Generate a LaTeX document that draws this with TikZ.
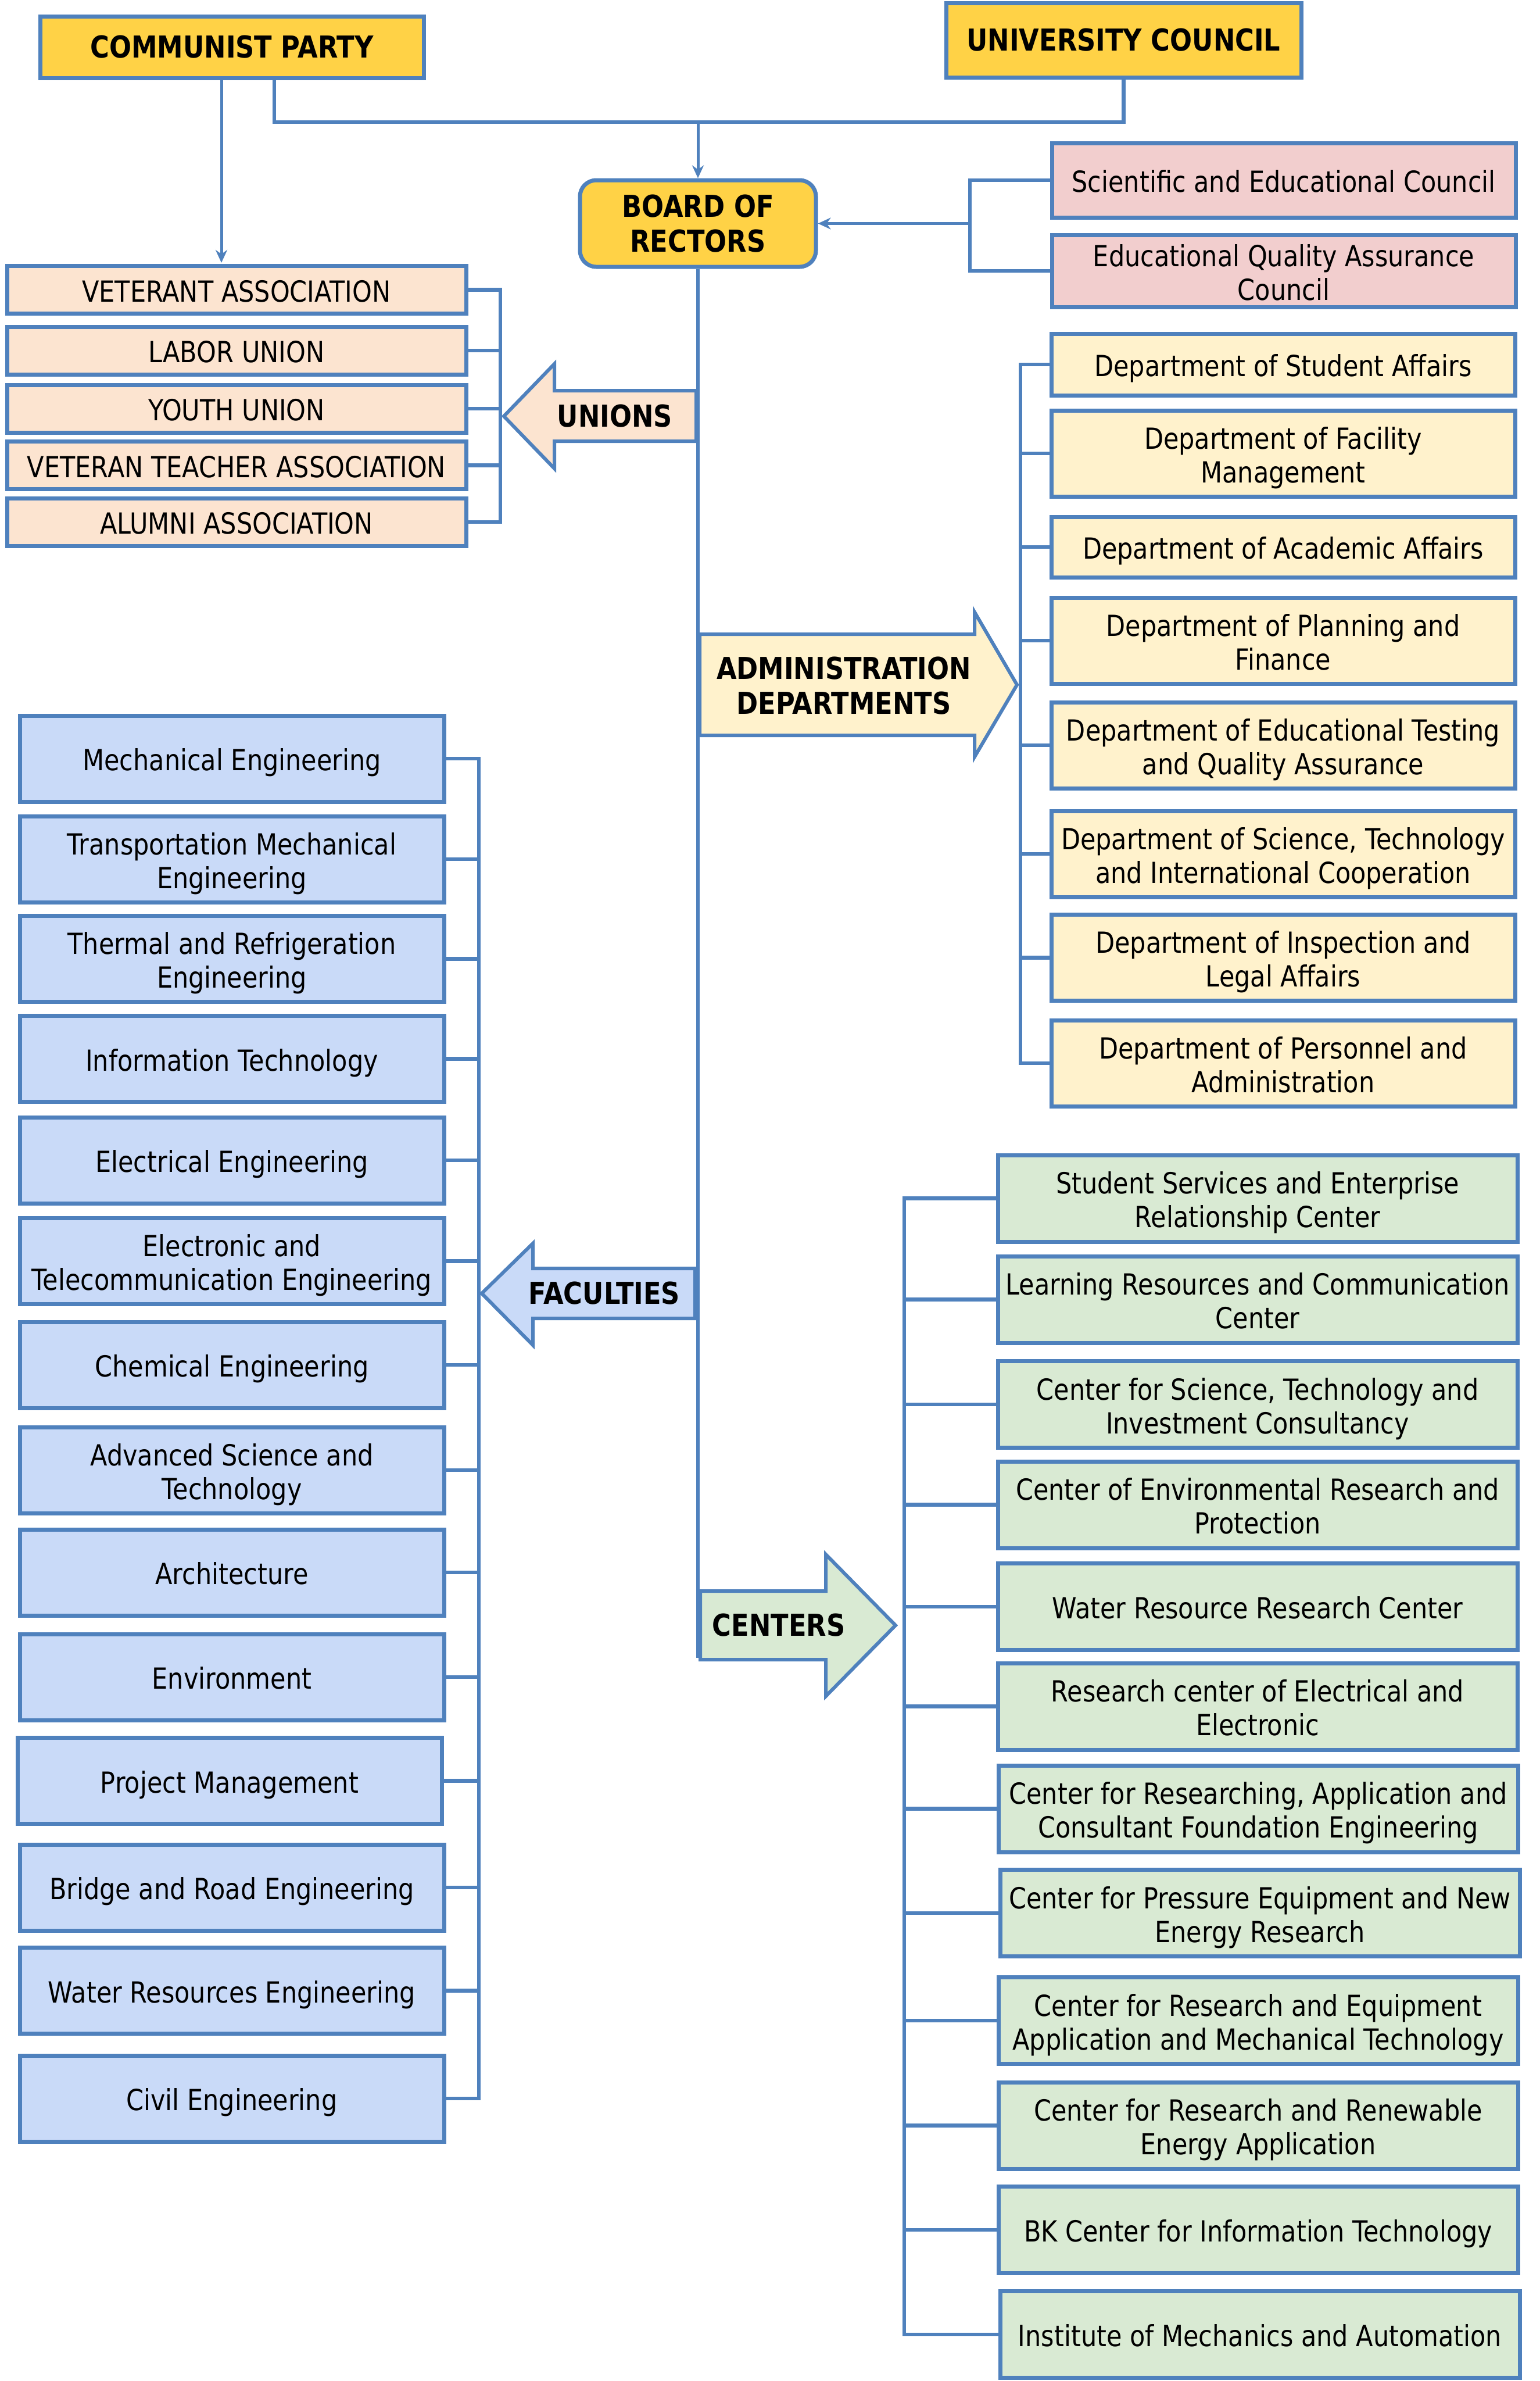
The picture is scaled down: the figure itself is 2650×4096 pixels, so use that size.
\documentclass[tikz,border=0pt]{standalone}
\usepackage{fontspec}
\setmainfont{DejaVu Sans}[FakeStretch=0.86]
\usetikzlibrary{arrows.meta}
\definecolor{bord}{RGB}{79,129,189}
\definecolor{goldc}{RGB}{255,210,70}
\definecolor{peach}{RGB}{252,228,208}
\definecolor{pinkc}{RGB}{242,206,206}
\definecolor{lyel}{RGB}{255,242,204}
\definecolor{lblue}{RGB}{201,218,248}
\definecolor{lgreen}{RGB}{217,234,211}
\newcommand\fsr{\fontsize{50}{58}\selectfont}
\newcommand\fsb{\fontsize{52}{60}\selectfont\bfseries}
\begin{document}
\begin{tikzpicture}[x=1pt,y=-1pt,
  box/.style={draw=bord, line width=7pt, align=center, inner sep=0pt, font=\fsr},
  onel/.style={text height=53pt, text depth=12pt},
  twol/.style={text height=112pt, text depth=12pt},
  headbox/.style={box, fill=goldc, font=\fsb},
  counbox/.style={box, onel, fill=pinkc, minimum width=798pt},
  unibox/.style={box, onel, fill=peach, minimum width=790pt, minimum height=82pt},
  admbox/.style={box, onel, fill=lyel, minimum width=798pt, minimum height=148pt},
  facbox/.style={box, onel, fill=lblue, minimum width=730pt, minimum height=148pt},
  cenbox/.style={box, onel, fill=lgreen, minimum width=894pt, minimum height=149pt},
  conn/.style={draw=bord, line width=6.5pt},
  arr/.style={draw=bord, line width=5pt, -{Stealth[length=22pt,width=20pt]}},
  arrshape/.style={draw=bord, line width=6pt, line join=miter},
  lbl/.style={font=\fsb, align=center, inner sep=0pt}]
\fill[white] (0,0) rectangle (2650,4096);
\useasboundingbox (0,0) rectangle (2650,4096);

% top level
\node[headbox, minimum width=660pt, minimum height=106pt] (cp) at (399,81) {COMMUNIST PARTY};
\node[headbox, minimum width=611pt, minimum height=128pt] (uc) at (1933.5,69) {UNIVERSITY COUNCIL};
\node[headbox, rounded corners=28pt, minimum width=406pt, minimum height=149pt] (board) at (1201,384.5) {BOARD OF\\RECTORS};
\node[counbox, minimum height=128pt] (sci) at (2209,310) {Scientific and Educational Council};
\node[counbox, twol, minimum height=112pt] (eqa) at (2209,466) {Educational Quality Assurance\\Council};

\coordinate (hub) at (1201,210);
\draw[conn] (uc.south) |- (hub) -| ([xshift=73pt]cp.south);
\draw[arr] (hub) -- (board.north);
\draw[arr] ([xshift=-18pt]cp.south) -- ([xshift=-18pt]cp.south |- 0,452);

\coordinate (sb) at (1669,0);
\draw[conn] (sci.west) -- (sci.west -| sb) -- (eqa.west -| sb) -- (eqa.west);
\draw[arr] (board.east -| sb) -- (board.east);

% unions
\node[unibox] (va) at (407,498.5) {VETERANT ASSOCIATION};
\node[unibox] (lu) at (407,603) {LABOR UNION};
\node[unibox] (yu) at (407,703) {YOUTH UNION};
\node[unibox] (vta) at (407,800.5) {VETERAN TEACHER ASSOCIATION};
\node[unibox] (aa) at (407,898) {ALUMNI ASSOCIATION};
\coordinate (ub) at (861,0);
\draw[conn] (va.east) -- (va.east -| ub) -- (aa.east -| ub) -- (aa.east);
\foreach \n in {lu,yu,vta} \draw[conn] (\n.east) -- (\n.east -| ub);

% admin departments
\node[admbox, minimum height=106pt] (a1) at (2208,627) {Department of Student Affairs};
\node[admbox, twol] (a2) at (2208,780) {Department of Facility\\Management};
\node[admbox, minimum height=104pt] (a3) at (2208,941) {Department of Academic Affairs};
\node[admbox, twol] (a4) at (2208,1102) {Department of Planning and\\Finance};
\node[admbox, twol] (a5) at (2208,1282) {Department of Educational Testing\\and Quality Assurance};
\node[admbox, twol] (a6) at (2208,1469) {Department of Science, Technology\\and International Cooperation};
\node[admbox, twol] (a7) at (2208,1647.5) {Department of Inspection and\\Legal Affairs};
\node[admbox, twol] (a8) at (2208,1829) {Department of Personnel and\\Administration};
\coordinate (ab) at (1756,0);
\draw[conn] (a1.west) -- (a1.west -| ab) -- (a8.west -| ab) -- (a8.west);
\foreach \n in {a2,a3,a4,a5,a6,a7} \draw[conn] (\n.west) -- (\n.west -| ab);

% faculties
\node[facbox] (f1) at (399,1305) {Mechanical Engineering};
\node[facbox, twol] (f2) at (399,1478) {Transportation Mechanical\\Engineering};
\node[facbox, twol] (f3) at (399,1649.5) {Thermal and Refrigeration\\Engineering};
\node[facbox] (f4) at (399,1821.5) {Information Technology};
\node[facbox] (f5) at (399,1996) {Electrical Engineering};
\node[facbox, twol] (f6) at (399,2169.5) {Electronic and\\Telecommunication Engineering};
\node[facbox] (f7) at (399,2348) {Chemical Engineering};
\node[facbox, twol] (f8) at (399,2529) {Advanced Science and\\Technology};
\node[facbox] (f9) at (399,2705) {Architecture};
\node[facbox] (f10) at (399,2885) {Environment};
\node[facbox] (f11) at (395,3063.5) {Project Management};
\node[facbox] (f12) at (399,3247) {Bridge and Road Engineering};
\node[facbox] (f13) at (399,3424.5) {Water Resources Engineering};
\node[facbox] (f14) at (399,3610) {Civil Engineering};
\coordinate (fb) at (824,0);
\draw[conn] (f1.east) -- (f1.east -| fb) -- (f14.east -| fb) -- (f14.east);
\foreach \n in {f2,f3,f4,f5,f6,f7,f8,f9,f10,f11,f12,f13} \draw[conn] (\n.east) -- (\n.east -| fb);

% centers
\node[cenbox, twol] (c1) at (2164,2061.5) {Student Services and Enterprise\\Relationship Center};
\node[cenbox, twol] (c2) at (2164,2235.5) {Learning Resources and Communication\\Center};
\node[cenbox, twol] (c3) at (2164,2416) {Center for Science, Technology and\\Investment Consultancy};
\node[cenbox, twol] (c4) at (2164,2588.5) {Center of Environmental Research and\\Protection};
\node[cenbox] (c5) at (2164,2764) {Water Resource Research Center};
\node[cenbox, twol] (c6) at (2164,2935.5) {Research center of Electrical and\\Electronic};
\node[cenbox, twol] (c7) at (2165,3111.5) {Center for Researching, Application and\\Consultant Foundation Engineering};
\node[cenbox, twol] (c8) at (2168,3291) {Center for Pressure Equipment and New\\Energy Research};
\node[cenbox, twol] (c9) at (2165,3476) {Center for Research and Equipment\\Application and Mechanical Technology};
\node[cenbox, twol] (c10) at (2165,3656.5) {Center for Research and Renewable\\Energy Application};
\node[cenbox] (c11) at (2165,3836) {BK Center for Information Technology};
\node[cenbox] (c12) at (2168,4016) {Institute of Mechanics and Automation};
\coordinate (cb) at (1556,0);
\draw[conn] (c1.west) -- (c1.west -| cb) -- (c12.west -| cb) -- (c12.west);
\foreach \n in {c2,c3,c4,c5,c6,c7,c8,c9,c10,c11} \draw[conn] (\n.west) -- (\n.west -| cb);

% main trunk
\coordinate (trunkend) at (1201,2852);
\draw[conn] (board.south) -- (trunkend);

% block arrows
\draw[arrshape, fill=peach] (954,626) -- (867,716) -- (954,806) -- (954,759) -- (1198,759) -- (1198,672) -- (954,672) -- cycle;
\node[lbl] (tunions) at (1058,716) {UNIONS};

\draw[arrshape, fill=lyel] (1204,1091) -- (1677,1091) -- (1677,1053) -- (1750,1178) -- (1677,1302) -- (1677,1265) -- (1204,1265) -- cycle;
\node[lbl] (tadmin) at (1452,1180) {ADMINISTRATION\\DEPARTMENTS};

\draw[arrshape, fill=lblue] (917,2139) -- (829,2225) -- (917,2314) -- (917,2268) -- (1196,2268) -- (1196,2182) -- (917,2182) -- cycle;
\node[lbl] (tfac) at (1040,2225) {FACULTIES};

\draw[arrshape, fill=lgreen] (1205,2737) -- (1421,2737) -- (1421,2674) -- (1541,2796) -- (1421,2918) -- (1421,2855) -- (1205,2855) -- cycle;
\node[lbl] (tcen) at (1340,2796) {CENTERS};
\end{tikzpicture}
\end{document}
